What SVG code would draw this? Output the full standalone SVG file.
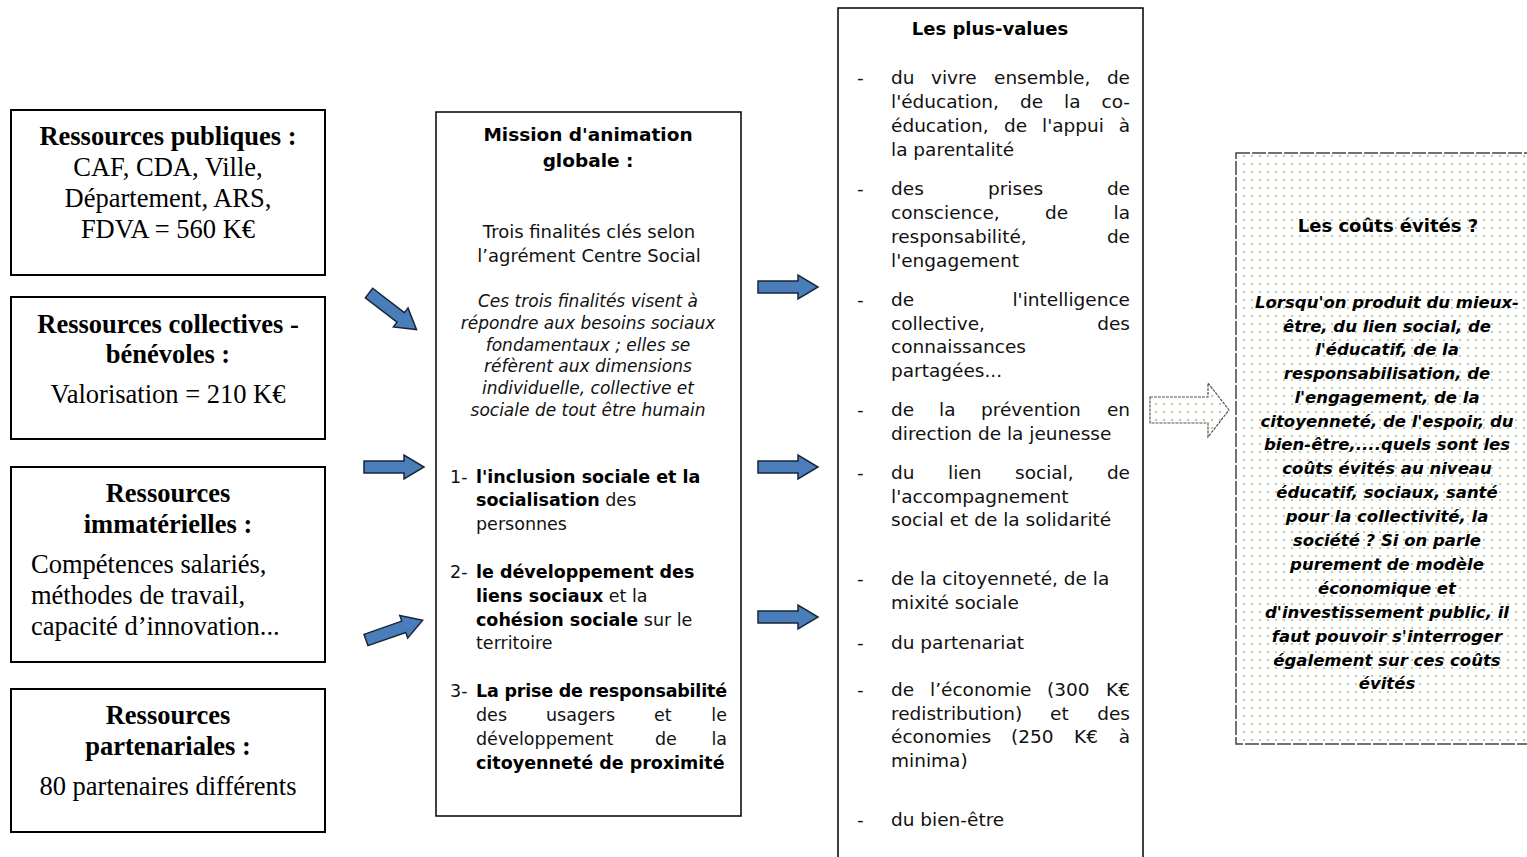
<svg xmlns="http://www.w3.org/2000/svg" width="1527" height="857" viewBox="0 0 1527 857">
<style>
.box{fill:#fff;stroke:#000;stroke-width:2}
.thin{fill:#fff;stroke:#000;stroke-width:1.5}
.ser{font-family:"Liberation Serif","Times New Roman",serif;font-size:26.5px;fill:#000}
.serb{font-family:"Liberation Serif","Times New Roman",serif;font-size:26.5px;font-weight:bold;fill:#000}
.s{font-family:"DejaVu Sans","Noto Sans",sans-serif;font-size:18px;fill:#111}
.sb{font-family:"DejaVu Sans","Noto Sans",sans-serif;font-size:18px;font-weight:bold;fill:#000}
.pv{font-family:"DejaVu Sans","Noto Sans",sans-serif;font-size:18.5px;fill:#111}
.it{font-family:"DejaVu Sans","Noto Sans",sans-serif;font-size:17px;font-style:italic;fill:#111}
.li{font-family:"DejaVu Sans","Noto Sans",sans-serif;font-size:17.5px;fill:#111}
.lb{font-weight:bold;fill:#000}
.bi{font-family:"DejaVu Sans","Noto Sans",sans-serif;font-size:16.5px;font-style:italic;font-weight:bold;fill:#000}
.c{text-anchor:middle}
.e{text-anchor:end}
.blue{fill:#4a7ebb;stroke:#1a2638;stroke-width:1.5;stroke-linejoin:miter}
</style>
<defs>
<pattern id="dots" width="8" height="8" patternUnits="userSpaceOnUse">
<rect width="8" height="8" fill="#fff"/>
<circle cx="4" cy="4" r="1.1" fill="#a9c47c"/>
</pattern>
<path id="arr" d="M0,-6 L40,-6 L40,-12 L60,0 L40,12 L40,6 L0,6 Z"/>
</defs>
<rect width="1527" height="857" fill="#fff"/>

<g id="res-publiques">
<rect class="box" x="11" y="110" width="314" height="165"/>
<text class="serb c" x="168" y="145">Ressources publiques :</text>
<text class="ser c" x="168" y="176">CAF, CDA, Ville,</text>
<text class="ser c" x="168" y="207">Département, ARS,</text>
<text class="ser c" x="168" y="238">FDVA = 560 K€</text>
</g>
<g id="res-collectives">
<rect class="box" x="11" y="297" width="314" height="142"/>
<text class="serb c" x="168" y="333">Ressources collectives -</text>
<text class="serb c" x="168" y="363">bénévoles :</text>
<text class="ser c" x="168" y="403">Valorisation = 210 K€</text>
</g>
<g id="res-immaterielles">
<rect class="box" x="11" y="467" width="314" height="195"/>
<text class="serb c" x="168" y="502">Ressources</text>
<text class="serb c" x="168" y="533">immatérielles :</text>
<text class="ser" x="31" y="573">Compétences salariés,</text>
<text class="ser" x="31" y="604">méthodes de travail,</text>
<text class="ser" x="31" y="635">capacité d’innovation...</text>
</g>
<g id="res-partenariales">
<rect class="box" x="11" y="689" width="314" height="143"/>
<text class="serb c" x="168" y="724">Ressources</text>
<text class="serb c" x="168" y="755">partenariales :</text>
<text class="ser c" x="168" y="795">80 partenaires différents</text>
</g>

<g id="mission">
<rect class="thin" x="436" y="112" width="305" height="704"/>
<text class="sb c" x="588" y="141" style="font-size:18.5px">Mission d'animation</text>
<text class="sb c" x="588" y="167" style="font-size:18.5px">globale :</text>
<text class="s c" x="589" y="238">Trois finalités clés selon</text>
<text class="s c" x="589" y="262">l’agrément Centre Social</text>
<text class="it c" x="588" y="307">Ces trois finalités visent à</text>
<text class="it c" x="588" y="329">répondre aux besoins sociaux</text>
<text class="it c" x="588" y="351">fondamentaux ; elles se</text>
<text class="it c" x="588" y="372">réfèrent aux dimensions</text>
<text class="it c" x="588" y="394">individuelle, collective et</text>
<text class="it c" x="588" y="416">sociale de tout être humain</text>
<text class="li" x="450" y="483">1-</text>
<text class="li lb" x="476" y="483">l'inclusion sociale et la</text>
<text class="li" x="476" y="506"><tspan class="lb">socialisation</tspan> des</text>
<text class="li" x="476" y="530">personnes</text>
<text class="li" x="450" y="578">2-</text>
<text class="li lb" x="476" y="578">le développement des</text>
<text class="li" x="476" y="602"><tspan class="lb">liens sociaux</tspan> et la</text>
<text class="li" x="476" y="626"><tspan class="lb">cohésion sociale</tspan> sur le</text>
<text class="li" x="476" y="649">territoire</text>
<text class="li" x="450" y="697">3-</text>
<text class="li lb" x="476" y="697" textLength="251" lengthAdjust="spacing">La prise de responsabilité</text>
<text class="li" y="721"><tspan x="476">des</tspan><tspan x="546">usagers</tspan><tspan x="654">et</tspan></text>
<text class="li e" x="727" y="721">le</text>
<text class="li" y="745"><tspan x="476">développement</tspan><tspan x="655">de</tspan></text>
<text class="li e" x="727" y="745">la</text>
<text class="li lb" x="476" y="769">citoyenneté de proximité</text>
</g>

<g id="plus-values">
<path d="M838,870 L838,8 L1143,8 L1143,870" fill="#fff" stroke="#000" stroke-width="1.5"/>
<text class="sb c" x="990" y="35">Les plus-values</text>
<g class="pv">
<text x="857" y="84">-</text>
<text y="84"><tspan x="891">du</tspan><tspan x="931">vivre</tspan><tspan x="994">ensemble,</tspan></text>
<text class="e" x="1130" y="84">de</text>
<text y="108"><tspan x="891">l'éducation,</tspan><tspan x="1020">de</tspan><tspan x="1064">la</tspan></text>
<text class="e" x="1130" y="108">co-</text>
<text y="132"><tspan x="891">éducation,</tspan><tspan x="1004">de</tspan><tspan x="1042">l'appui</tspan></text>
<text class="e" x="1130" y="132">à</text>
<text x="891" y="156">la parentalité</text>

<text x="857" y="195">-</text>
<text y="195"><tspan x="891">des</tspan><tspan x="988">prises</tspan></text>
<text class="e" x="1130" y="195">de</text>
<text y="219"><tspan x="891">conscience,</tspan><tspan x="1045">de</tspan></text>
<text class="e" x="1130" y="219">la</text>
<text x="891" y="243">responsabilité,</text>
<text class="e" x="1130" y="243">de</text>
<text x="891" y="267">l'engagement</text>

<text x="857" y="306">-</text>
<text x="891" y="306">de</text>
<text class="e" x="1130" y="306">l'intelligence</text>
<text x="891" y="330">collective,</text>
<text class="e" x="1130" y="330">des</text>
<text x="891" y="353">connaissances</text>
<text x="891" y="377">partagées...</text>

<text x="857" y="416">-</text>
<text y="416"><tspan x="891">de</tspan><tspan x="939">la</tspan><tspan x="981">prévention</tspan></text>
<text class="e" x="1130" y="416">en</text>
<text x="891" y="440">direction de la jeunesse</text>

<text x="857" y="479">-</text>
<text y="479"><tspan x="891">du</tspan><tspan x="948">lien</tspan><tspan x="1015">social,</tspan></text>
<text class="e" x="1130" y="479">de</text>
<text x="891" y="503">l'accompagnement</text>
<text x="891" y="526">social et de la solidarité</text>

<text x="857" y="585">-</text>
<text x="891" y="585">de la citoyenneté, de la</text>
<text x="891" y="609">mixité sociale</text>

<text x="857" y="649">-</text>
<text x="891" y="649">du partenariat</text>

<text x="857" y="696">-</text>
<text y="696"><tspan x="891">de</tspan><tspan x="930">l’économie</tspan><tspan x="1047">(300</tspan></text>
<text class="e" x="1130" y="696">K€</text>
<text y="720"><tspan x="891">redistribution)</tspan><tspan x="1050">et</tspan></text>
<text class="e" x="1130" y="720">des</text>
<text y="743"><tspan x="891">économies</tspan><tspan x="1011">(250</tspan><tspan x="1074">K€</tspan></text>
<text class="e" x="1130" y="743">à</text>
<text x="891" y="767">minima)</text>

<text x="857" y="826">-</text>
<text x="891" y="826">du bien-être</text>
</g>
</g>

<g id="couts-evites">
<rect x="1236" y="153" width="300" height="591" fill="url(#dots)" stroke="#444" stroke-width="1.5" stroke-dasharray="14 2"/>
<text class="sb c" x="1388" y="232">Les coûts évités ?</text>
<g class="bi c">
<text x="1387" y="308">Lorsqu'on produit du mieux-</text>
<text x="1387" y="332">être, du lien social, de</text>
<text x="1387" y="355">l'éducatif, de la</text>
<text x="1387" y="379">responsabilisation, de</text>
<text x="1387" y="403">l'engagement, de la</text>
<text x="1387" y="427">citoyenneté, de l'espoir, du</text>
<text x="1387" y="450">bien-être,....quels sont les</text>
<text x="1387" y="474">coûts évités  au niveau</text>
<text x="1387" y="498">éducatif, sociaux, santé</text>
<text x="1387" y="522">pour la collectivité, la</text>
<text x="1387" y="546">société ? Si on parle</text>
<text x="1387" y="570">purement de modèle</text>
<text x="1387" y="594">économique et</text>
<text x="1387" y="618">d'investissement public, il</text>
<text x="1387" y="642">faut pouvoir s'interroger</text>
<text x="1387" y="666">également sur ces coûts</text>
<text x="1387" y="689">évités</text>
</g>
</g>

<g id="connectors">
<use href="#arr" class="blue" transform="translate(369,293) rotate(37.6)"/>
<use href="#arr" class="blue" transform="translate(364,467)"/>
<use href="#arr" class="blue" transform="translate(366,640) rotate(-19.3)"/>
<use href="#arr" class="blue" transform="translate(758,287)"/>
<use href="#arr" class="blue" transform="translate(758,467)"/>
<use href="#arr" class="blue" transform="translate(758,617)"/>
<path d="M1150,397 L1208,397 L1208,383 L1229,410 L1208,437 L1208,423 L1150,423 Z" fill="url(#dots)" stroke="#555" stroke-width="1.2" stroke-dasharray="3 1"/>
</g>
</svg>
